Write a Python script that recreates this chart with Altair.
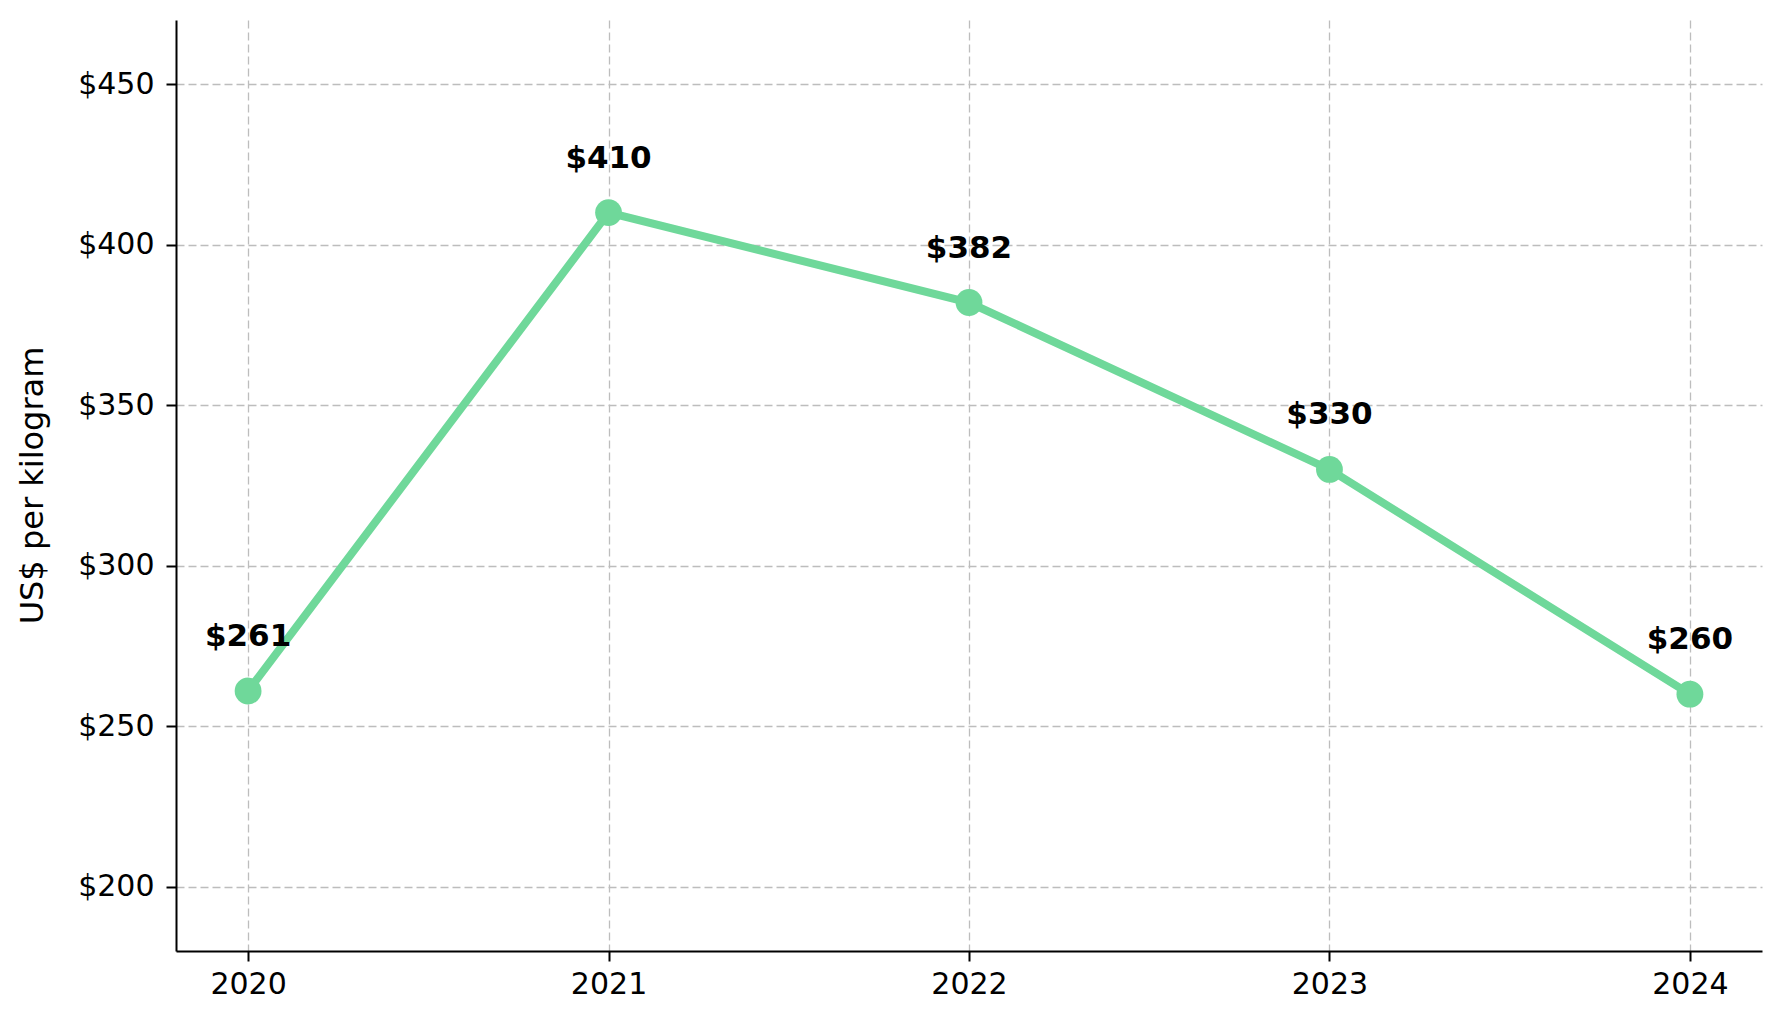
import altair as alt
import pandas as pd

years = [2020, 2021, 2022, 2023, 2024]
prices = [261, 410, 382, 330, 260]
labels = ["$261", "$410", "$382", "$330", "$260"]
y_ticks = [200, 250, 300, 350, 400, 450]

df = pd.DataFrame({"year": years, "price": prices, "label": labels})

FONT = "DejaVu Sans"
COLOR = "#6fd89a"
GRID = "#bdbdbd"

x_enc = alt.X(
    "year:Q",
    scale=alt.Scale(domain=[2019.8, 2024.2], nice=False, zero=False),
    axis=alt.Axis(
        values=years, format="d", title=None,
        grid=True, gridColor=GRID, gridDash=[8, 4], gridWidth=1.3,
        domainColor="black", domainWidth=2, tickColor="black", tickWidth=2, tickSize=10,
        labelFont=FONT, labelFontSize=30, labelColor="black", labelPadding=8,
        labelFlush=False,
    ),
)
y_enc = alt.Y(
    "price:Q",
    scale=alt.Scale(domain=[180, 470], nice=False, zero=False),
    axis=alt.Axis(
        values=y_ticks, labelExpr="'$' + datum.value",
        title="US$ per kilogram", titleFont=FONT, titleFontSize=32, titleFontWeight="normal",
        titleColor="black", titleX=-134, titleY=465, titleAngle=-90,
        titleBaseline="alphabetic", titleAlign="center",
        grid=True, gridColor=GRID, gridDash=[8, 4], gridWidth=1.3,
        domainColor="black", domainWidth=2, tickColor="black", tickWidth=2, tickSize=10,
        labelFont=FONT, labelFontSize=30, labelColor="black", labelPadding=12,
        labelFlush=False,
    ),
)

base = alt.Chart(df)
line = base.mark_line(color=COLOR, strokeWidth=8).encode(x=x_enc, y=y_enc)
points = base.mark_circle(color=COLOR, size=720, opacity=1).encode(x="year:Q", y="price:Q")
text = base.mark_text(
    font=FONT, fontSize=31, fontWeight="bold", color="black",
    baseline="alphabetic", align="center", dy=-45,
).encode(x="year:Q", y="price:Q", text="label:N")

chart = (
    alt.layer(line, points, text)
    .properties(
        width=1586, height=931,
        autosize=alt.AutoSizeParams(type="none"),
        padding={"left": 168, "top": 12, "right": 11, "bottom": 60},
        view=alt.ViewBackground(strokeOpacity=0, strokeWidth=0),
    )
    .configure_view(strokeWidth=0, strokeOpacity=0)
    .configure(background="white")
)

chart.save("out.html", embed_options={"renderer": "svg", "actions": False})
